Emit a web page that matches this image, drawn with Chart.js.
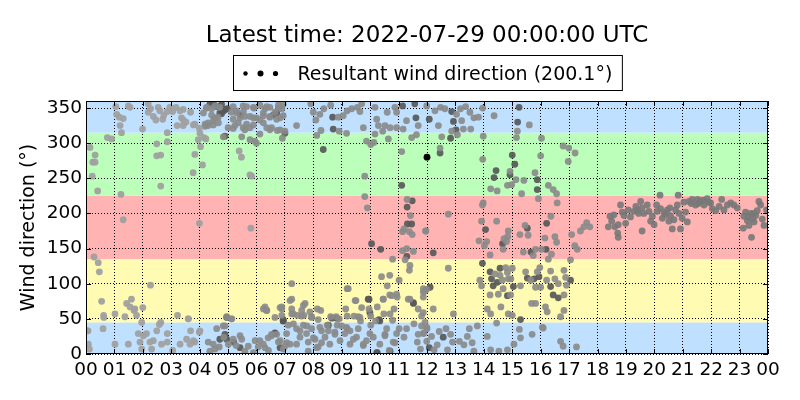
<!DOCTYPE html>
<html>
<head>
<meta charset="utf-8">
<script src="https://cdn.jsdelivr.net/npm/chart.js@4.4.1/dist/chart.umd.min.js"></script>
<style>
html,body{margin:0;padding:0;background:#ffffff;}
#wrap{width:800px;height:400px;position:relative;}
</style>
</head>
<body>
<div id="wrap"><canvas id="c" width="800" height="400"></canvas></div>
<script>
// ---------- text ----------
const titleText = 'Latest time: 2022-07-29 00:00:00 UTC';
const legendText = 'Resultant wind direction (200.1°)';
const yAxisTitle = 'Wind direction (°)';

// ---------- ticks ----------
const xTickValues = [0,1,2,3,4,5,6,7,8,9,10,11,12,13,14,15,16,17,18,19,20,21,22,23,24];
const xTickLabels = ['00','01','02','03','04','05','06','07','08','09','10','11','12','13','14','15','16','17','18','19','20','21','22','23','00'];
const yTickValues = [0,50,100,150,200,250,300,350];

// ---------- direction sectors (degrees) ----------
const bandEdges = [0,45,135,225,315,360];
const bandColors = ['#bfe0ff','#fffbb3','#ffb3b3','#bbffbb','#bfe0ff'];

// ---------- observations: [hour of day, direction deg] ----------
const lightObs = [
[0.14,294],[0.32,283],[0.24,273],[0.32,273],[0.22,253],[0.41,232],[0.28,138],[0.43,130],[0.47,117],[0.55,75],
[0.62,55],[0.63,52],[0.6,36],[0.05,33],[0.08,14],[0.12,7],[0.07,33],[0.75,308],[0.9,306],[1.08,341],[1.17,337],
[1.2,325],[1.25,315],[1.31,335],[1.05,352],[1.49,353],[1.55,351],[1.23,227],[1.31,191],[1.02,57],[1.37,53],
[1.43,72],[1.6,78],[1.55,67],[1.69,62],[1.78,55],[1.72,64],[2.0,66],[1.96,45],[2.27,98],
[1.02,14],[1.49,14],[1.84,29],[1.9,17],[1.96,7],[2.02,26],[2.13,29],[2.25,17],[2.31,7],[2.37,19],[2.49,33],
[2.58,42],[2.63,45],[2.66,14],[2.86,17],[2.86,29],[3.05,5],[3.22,55],[3.31,14],[3.54,21],[3.68,33],[3.6,50],
[3.83,17],[3.99,31],
[2.19,356],[2.27,349],[2.54,351],[2.6,346],[2.19,344],[2.37,338],[2.46,333],[2.7,334],[2.74,340],[2.86,345],
[2.95,351],[3.05,345],[3.17,351],[3.31,346],[3.36,336],[3.21,325],[3.42,325],[3.52,330],[3.68,344],[3.83,327],
[3.83,284],[4.1,269],[4.03,295],[4.15,308],[4.22,306],[3.99,321],[3.77,258],[2.49,299],[2.49,282],[2.63,283],
[2.86,302],[2.86,315],[2.63,239],[1.99,320],[3.99,186],[5.8,179],[5.77,255],[5.83,253],[5.39,289],[5.47,280],
[3.42,348],[3.42,333],[3.78,326],[4.01,314],[3.95,305],[3.6,50],[4.01,33],[3.78,19],[3.66,14]
];
const midObs = [
[4.3,17],[4.54,7],[4.6,36],[4.69,10],[4.85,24],[4.89,40],[4.95,53],[5.12,50],[5.28,12],[5.42,26],
[4.24,351],[4.42,349],[4.54,353],[4.71,351],[5.12,344],[5.3,346],[5.59,338],[5.65,327],[5.77,322],[5.89,336],
[5.53,322],[5.24,325],[5.0,322],[4.3,325],[4.19,327],[4.48,332],[4.65,337],[5.18,334],[5.53,353],[5.91,350],[5.94,303],
[4.13,343],[4.25,350],[4.42,340],[4.54,336],[4.3,329],[4.19,324],[4.48,326],[4.66,329],[5.18,352],[5.3,343],
[5.42,336],[5.54,345],[5.65,352],[5.77,338],[5.59,319],[5.48,309],[5.77,305],[6.0,300],[5.89,326],[6.12,333],
[6.24,343],[6.36,352],[6.47,338],[6.77,350],[6.83,336],[6.94,355],[6.24,329],[6.47,319],[6.83,319],[4.83,309],
[5.18,321],[5.36,329],
[4.48,14],[4.36,4],[4.83,40],[5.13,50],[5.01,14],[5.18,21],[5.48,21],[5.71,11],[5.59,4],[6.24,64],[6.36,62],
[6.12,19],[6.41,23],[6.53,28],[6.83,19],[7.06,16],[6.3,9],[5.89,2],[6.83,66],
[5.89,351],[6.12,354],[6.3,349],[6.47,351],[6.65,344],[6.77,354],[6.89,349],[6.94,339],[6.71,334],[6.47,337],
[6.24,339],[6.0,336],[6.36,322],[6.53,322],[6.73,318],[6.91,307],[7.0,317],[6.12,313],[7.41,325],[7.91,356],
[8.0,344],[8.09,333],[8.23,341],[8.37,349],[8.61,354],[8.88,337],[9.05,339],[9.19,346],[9.35,349],[9.55,351],
[9.64,345],[9.76,322],[9.87,303],[10.02,298],[9.7,356],[8.12,311],[8.27,318],[8.91,317],[9.17,314],[9.81,253],
[9.81,224],[9.9,208],
[10.17,351],[10.23,334],[10.29,325],[10.17,313],[10.13,301],[10.44,317],[10.52,325],[10.6,344],[10.64,306],
[10.7,322],[10.87,351],[10.93,344],[11.16,320],[11.11,288],[11.28,332],[11.69,325],[11.63,312],[11.46,308],[10.93,322],
[11.3,220],[11.42,197],[11.19,178],[11.14,174],[11.38,174],[11.48,170],[11.29,150],[11.14,147],[11.52,146],
[11.23,134],[11.4,126],[11.38,119],[10.79,135],[11.95,175],
[7.24,100],[7.24,78],[7.24,64],[6.3,67],[6.36,62],[6.89,67],[6.89,55],[7.3,57],[7.44,55],[7.59,62],[7.71,72],
[7.67,55],[7.88,60],[7.94,53],[8.14,64],[8.26,62],[8.17,49],[8.49,41],[8.61,53],[8.8,53],[8.91,50],[9.19,93],
[9.14,64],[9.19,54],[9.43,54],[9.5,76],[9.58,53],[9.66,47],[9.96,64],[10.02,54],[10.19,47],[10.25,67],[10.46,78],
[10.48,57],[10.69,112],[10.69,84],[10.84,64],[10.4,110],[10.6,97],[11.02,105],[10.95,81],[10.79,48],[11.4,78],
[11.69,64],[11.81,54],[11.93,45],[11.87,88],[11.99,92],
[5.95,19],[6.06,10],[6.24,14],[6.42,5],[6.53,26],[6.77,17],[6.94,7],[7.06,29],[7.12,41],[7.18,14],[7.3,43],
[7.41,36],[7.53,24],[7.65,41],[7.76,29],[7.82,17],[7.94,36],[8.06,21],[8.17,10],[8.29,33],[8.41,24],[8.58,14],
[8.76,31],[8.84,41],[8.94,19],[9.11,29],[9.19,36],[9.29,14],[9.52,24],[9.58,36],[9.76,12],[9.87,19],[9.99,29],
[10.02,41],[10.11,24],[10.34,14],[10.52,26],[10.58,36],[10.67,5],[10.81,17],[10.93,29],[11.02,36],[11.19,24],
[11.28,36],[11.54,43],[11.66,17],[11.77,7],[11.87,29],[12.0,36],
[6.71,28],[6.89,64],[7.18,76],[7.24,57],[7.65,69],[7.59,54],[7.53,33],[7.77,40],[7.94,52],[8.0,23],[8.23,38],
[8.29,16],[9.0,40],[9.23,93],[9.17,38],[9.41,21],[9.47,76],[9.64,52],[9.7,66],[10.46,78],[10.7,57],[10.76,83],
[10.93,85],[11.34,78],[11.87,59],[11.93,90],[11.99,38],[6.65,52],[7.0,11],[7.41,14],[7.82,4],[8.12,9],[8.53,33],
[8.76,28],[9.29,33],[9.76,14],[10.52,28],[10.87,16],[11.69,28],
[11.99,353],[12.28,346],[12.48,351],[12.63,349],[13.04,341],[13.18,349],[13.36,352],[13.51,344],[13.65,336],
[13.81,337],[13.22,332],[12.87,317],[13.07,312],[13.28,320],[13.54,320],[12.52,309],[12.46,293],[12.4,325],[13.96,350],
[13.98,310],[13.96,277],[14.36,339],[15.18,317],[15.15,308],[15.6,326],[16.03,307],[14.92,260],[14.24,235],
[14.47,232],[14.83,240],[14.98,241],[15.13,248],[15.41,247],[15.33,228],[15.8,258],[15.92,221],[16.0,282],
[16.27,240],[16.44,234],[16.56,228],[16.58,215],[16.79,296],[16.99,293],[16.97,274],[17.21,286],[13.98,215],
[12.75,199],[11.96,175],[13.95,212],[13.92,189],[13.83,161],[14.1,160],[14.02,154],[14.22,141],[14.45,189],
[14.68,149],[14.8,160],[14.84,167],[14.86,175],[14.71,164],[15.27,170],[15.45,183],[15.56,169],[15.39,145],
[15.74,140],[15.82,149],[16.15,165],[16.03,149],[16.36,196],[16.5,167],[16.56,159],[16.27,135],[16.38,142],
[17.2,154],[17.09,170],[17.62,187],[17.52,181],[17.4,175],[17.29,149],[17.05,134],[17.73,181],
[11.87,93],[11.87,81],[12.22,64],[12.75,122],[12.93,57],[13.86,105],[13.92,97],[14.39,114],[14.57,112],
[14.65,105],[14.77,123],[14.83,116],[14.86,107],[15.0,122],[14.95,107],[14.68,93],[14.51,85],[14.94,84],
[14.22,84],[14.12,64],[14.24,57],[14.6,67],[14.86,57],[15.0,55],[15.29,97],[15.47,117],[15.65,105],[15.88,117],
[15.97,123],[15.82,95],[16.0,95],[16.35,118],[16.21,105],[16.5,107],[16.62,100],[16.82,119],[16.88,109],
[16.91,98],[16.82,84],[15.68,72],[15.82,72],[16.17,67],[16.23,60],[16.7,53],[14.45,44],[16.06,38],[16.82,62],
[11.81,40],[11.89,30],[11.99,18],[12.16,25],[12.25,6],[12.36,13],[12.43,32],[12.67,36],[12.83,28],[12.9,17],
[12.72,6],[13.3,13],[13.42,25],[13.49,36],[13.59,16],[13.65,4],[13.77,40],[13.14,18],[14.12,25],[14.24,6],
[14.53,4],[14.83,6],[15.06,14],[15.29,23],[15.25,35],[15.7,28],[16.09,37],[16.7,18],[16.79,11],[17.26,10]
];
const darkObs = [
[4.85,346],[4.97,349],[5.44,340],[4.77,342],[4.89,310],[4.95,21],[5.2,17],
[4.36,355],[4.48,357],[4.6,352],[4.77,355],[4.89,348],[4.71,343],[6.59,340],[6.71,343],[7.0,314],
[4.71,21],[4.89,28],[4.95,52],[5.42,9],[6.65,30],[6.83,9],[6.94,47],
[8.68,337],[8.7,320],[8.35,291],[11.14,353],[11.57,356],[11.61,336],
[11.11,240],[11.48,218],[11.3,209],[11.31,185],[11.46,185],[11.29,139],[10.05,157],[10.37,149],
[6.94,49],[9.96,78],[10.31,49],[11.52,72],[6.65,29],[8.53,41],[10.25,2],
[8.65,51],[8.82,51],[9.93,78],[9.99,59],[10.34,47],[11.52,73],[6.94,47],[10.23,2],[10.7,4],
[12.08,334],[12.87,345],[12.93,331],[13.02,319],[12.83,307],[12.46,286],
[15.24,351],[15.19,330],[15.0,283],[15.09,270],[14.92,255],[14.43,261],[14.36,251],[15.88,248],[15.88,234],
[12.22,144],[14.06,177],[14.66,157],[15.53,179],[15.66,145],[16.19,149],[16.21,186],[13.95,129],
[12.11,95],[14.22,117],[14.27,107],[14.33,97],[14.47,102],[14.57,122],[15.04,96],[14.83,83],[15.53,108],
[15.77,107],[15.94,110],[16.35,96],[17.05,105],[16.44,84],[16.62,80],[15.29,49],[12.08,9],[12.57,24]
];
const lateObs = [
[18.38,181],[18.44,196],[18.5,189],[18.58,198],[18.61,181],[18.73,184],[18.71,172],[18.73,166],[18.81,212],
[18.87,202],[18.93,197],[18.99,186],[19.08,205],[19.16,195],[19.28,203],[19.4,205],[19.52,217],[19.57,208],
[19.63,200],[19.57,175],[19.75,212],[19.81,203],[19.87,189],[19.93,196],[19.99,184],[20.08,212],[20.1,203],
[20.2,226],[20.22,207],[20.28,193],[20.34,201],[20.46,205],[20.51,189],[20.57,197],[20.63,178],[20.69,191],
[20.75,205],[20.81,212],[20.84,226],[20.87,200],[20.92,178],[20.98,193],[21.04,216],[21.1,202],[21.16,188],
[21.22,217],[21.33,220],[21.45,212],[21.52,220],[21.63,217],[21.75,212],[21.86,221],[21.98,215],[22.04,207],
[22.16,204],[22.28,210],[22.37,220],[22.45,205],[22.57,212],[22.69,215],[22.8,212],[22.92,208],[23.15,196],
[23.21,202],[23.27,190],[23.33,183],[23.39,200],[23.45,192],[23.51,188],[23.57,197],[23.62,204],[23.68,217],
[23.74,212],[23.8,192],[23.86,183],[23.13,179],[23.42,166],
[19.35,210],[19.45,200],[20.4,198],[20.55,208],[21.3,214],[21.55,214],[21.7,219],[21.9,216],[23.3,195],[23.5,200],[23.95,205]
];
const resultantObs = [[12.0,280]];

// ---------- plugins ----------
const bandsPlugin = {
  id: 'bands',
  beforeDraw(chart) {
    const {ctx, chartArea: a, scales: {y}} = chart;
    ctx.save();
    for (let i = 0; i < bandColors.length; i++) {
      const yTop = y.getPixelForValue(bandEdges[i + 1]);
      const yBot = y.getPixelForValue(bandEdges[i]);
      ctx.fillStyle = bandColors[i];
      ctx.fillRect(a.left, yTop, a.right - a.left, yBot - yTop);
    }
    ctx.restore();
  }
};

const framePlugin = {
  id: 'frame',
  afterDraw(chart) {
    const {ctx, chartArea: a, scales: {x, y}} = chart;
    ctx.save();
    ctx.strokeStyle = '#000';
    ctx.lineWidth = 1;
    ctx.setLineDash([]);
    // inward ticks
    const tl = 5;
    ctx.beginPath();
    xTickValues.forEach(v => {
      const px = Math.round(x.getPixelForValue(v)) + 0.5;
      ctx.moveTo(px, a.bottom); ctx.lineTo(px, a.bottom - tl);
      ctx.moveTo(px, a.top); ctx.lineTo(px, a.top + tl);
    });
    yTickValues.forEach(v => {
      const py = Math.round(y.getPixelForValue(v)) + 0.5;
      ctx.moveTo(a.left, py); ctx.lineTo(a.left + tl, py);
      ctx.moveTo(a.right, py); ctx.lineTo(a.right - tl, py);
    });
    ctx.stroke();
    ctx.strokeRect(Math.round(a.left) + 0.5, Math.round(a.top) + 0.5,
                   Math.round(a.right - a.left) - 1, Math.round(a.bottom - a.top) - 1);
    // title
    const cx = (a.left + a.right) / 2;
    ctx.fillStyle = '#000';
    ctx.font = '23px "DejaVu Sans"';
    ctx.textAlign = 'center';
    ctx.textBaseline = 'alphabetic';
    ctx.fillText(titleText, cx, 42);
    // legend
    ctx.font = '19px "DejaVu Sans"';
    const tw = ctx.measureText(legendText).width;
    const boxW = tw + 74, boxH = 35;
    const bx = Math.round(cx - boxW / 2) + 0.5, by = 55.5;
    ctx.fillStyle = '#fff';
    ctx.fillRect(bx, by, boxW, boxH);
    ctx.strokeRect(bx, by, boxW, boxH);
    ctx.fillStyle = '#000';
    [[12, 2.2], [27, 3.0], [42, 2.6]].forEach(([dx, r]) => {
      ctx.beginPath();
      ctx.arc(bx + dx, by + 18, r, 0, Math.PI * 2);
      ctx.fill();
    });
    ctx.textAlign = 'left';
    ctx.fillText(legendText, bx + 64, by + 24);
    ctx.restore();
  }
};

const toPts = arr => arr.map(p => ({x: p[0], y: p[1]}));
const ds = (data, color) => ({
  data: toPts(data), backgroundColor: color, borderWidth: 0,
  pointRadius: 3.4, pointHoverRadius: 3.4
});

new Chart(document.getElementById('c'), {
  type: 'scatter',
  data: {
    datasets: [
      ds(lightObs, 'rgba(160,160,160,0.95)'),
      ds(midObs, 'rgba(138,138,138,0.9)'),
      ds(lateObs, 'rgba(120,120,120,0.9)'),
      ds(darkObs, 'rgba(88,88,88,0.92)'),
      ds(resultantObs, '#000000')
    ]
  },
  options: {
    responsive: false,
    animation: false,
    devicePixelRatio: 1,
    layout: {padding: {top: 101, right: 32, left: 0, bottom: 0}},
    plugins: {legend: {display: false}, title: {display: false}, tooltip: {enabled: false}},
    scales: {
      x: {
        type: 'linear', min: 0, max: 24,
        afterBuildTicks: s => { s.ticks = xTickValues.map(v => ({value: v})); },
        afterFit: s => { s.height = 46; },
        ticks: {
          autoSkip: false, maxRotation: 0, padding: 5, color: '#000',
          font: {family: 'DejaVu Sans', size: 18.5},
          callback: (v, i) => xTickLabels[i]
        },
        grid: {color: '#000', lineWidth: 1, drawTicks: false},
        border: {display: false, dash: [1, 2]}
      },
      y: {
        min: 0, max: 360,
        afterBuildTicks: s => { s.ticks = yTickValues.map(v => ({value: v})); },
        afterFit: s => { s.width = 86; },
        ticks: {
          padding: 4, color: '#000',
          font: {family: 'DejaVu Sans', size: 18.5}
        },
        title: {
          display: true, text: yAxisTitle, color: '#000',
          font: {family: 'DejaVu Sans', size: 19}, padding: {top: 18, bottom: 0}
        },
        grid: {color: '#000', lineWidth: 1, drawTicks: false},
        border: {display: false, dash: [1, 2]}
      }
    }
  },
  plugins: [bandsPlugin, framePlugin]
});
</script>
</body>
</html>
